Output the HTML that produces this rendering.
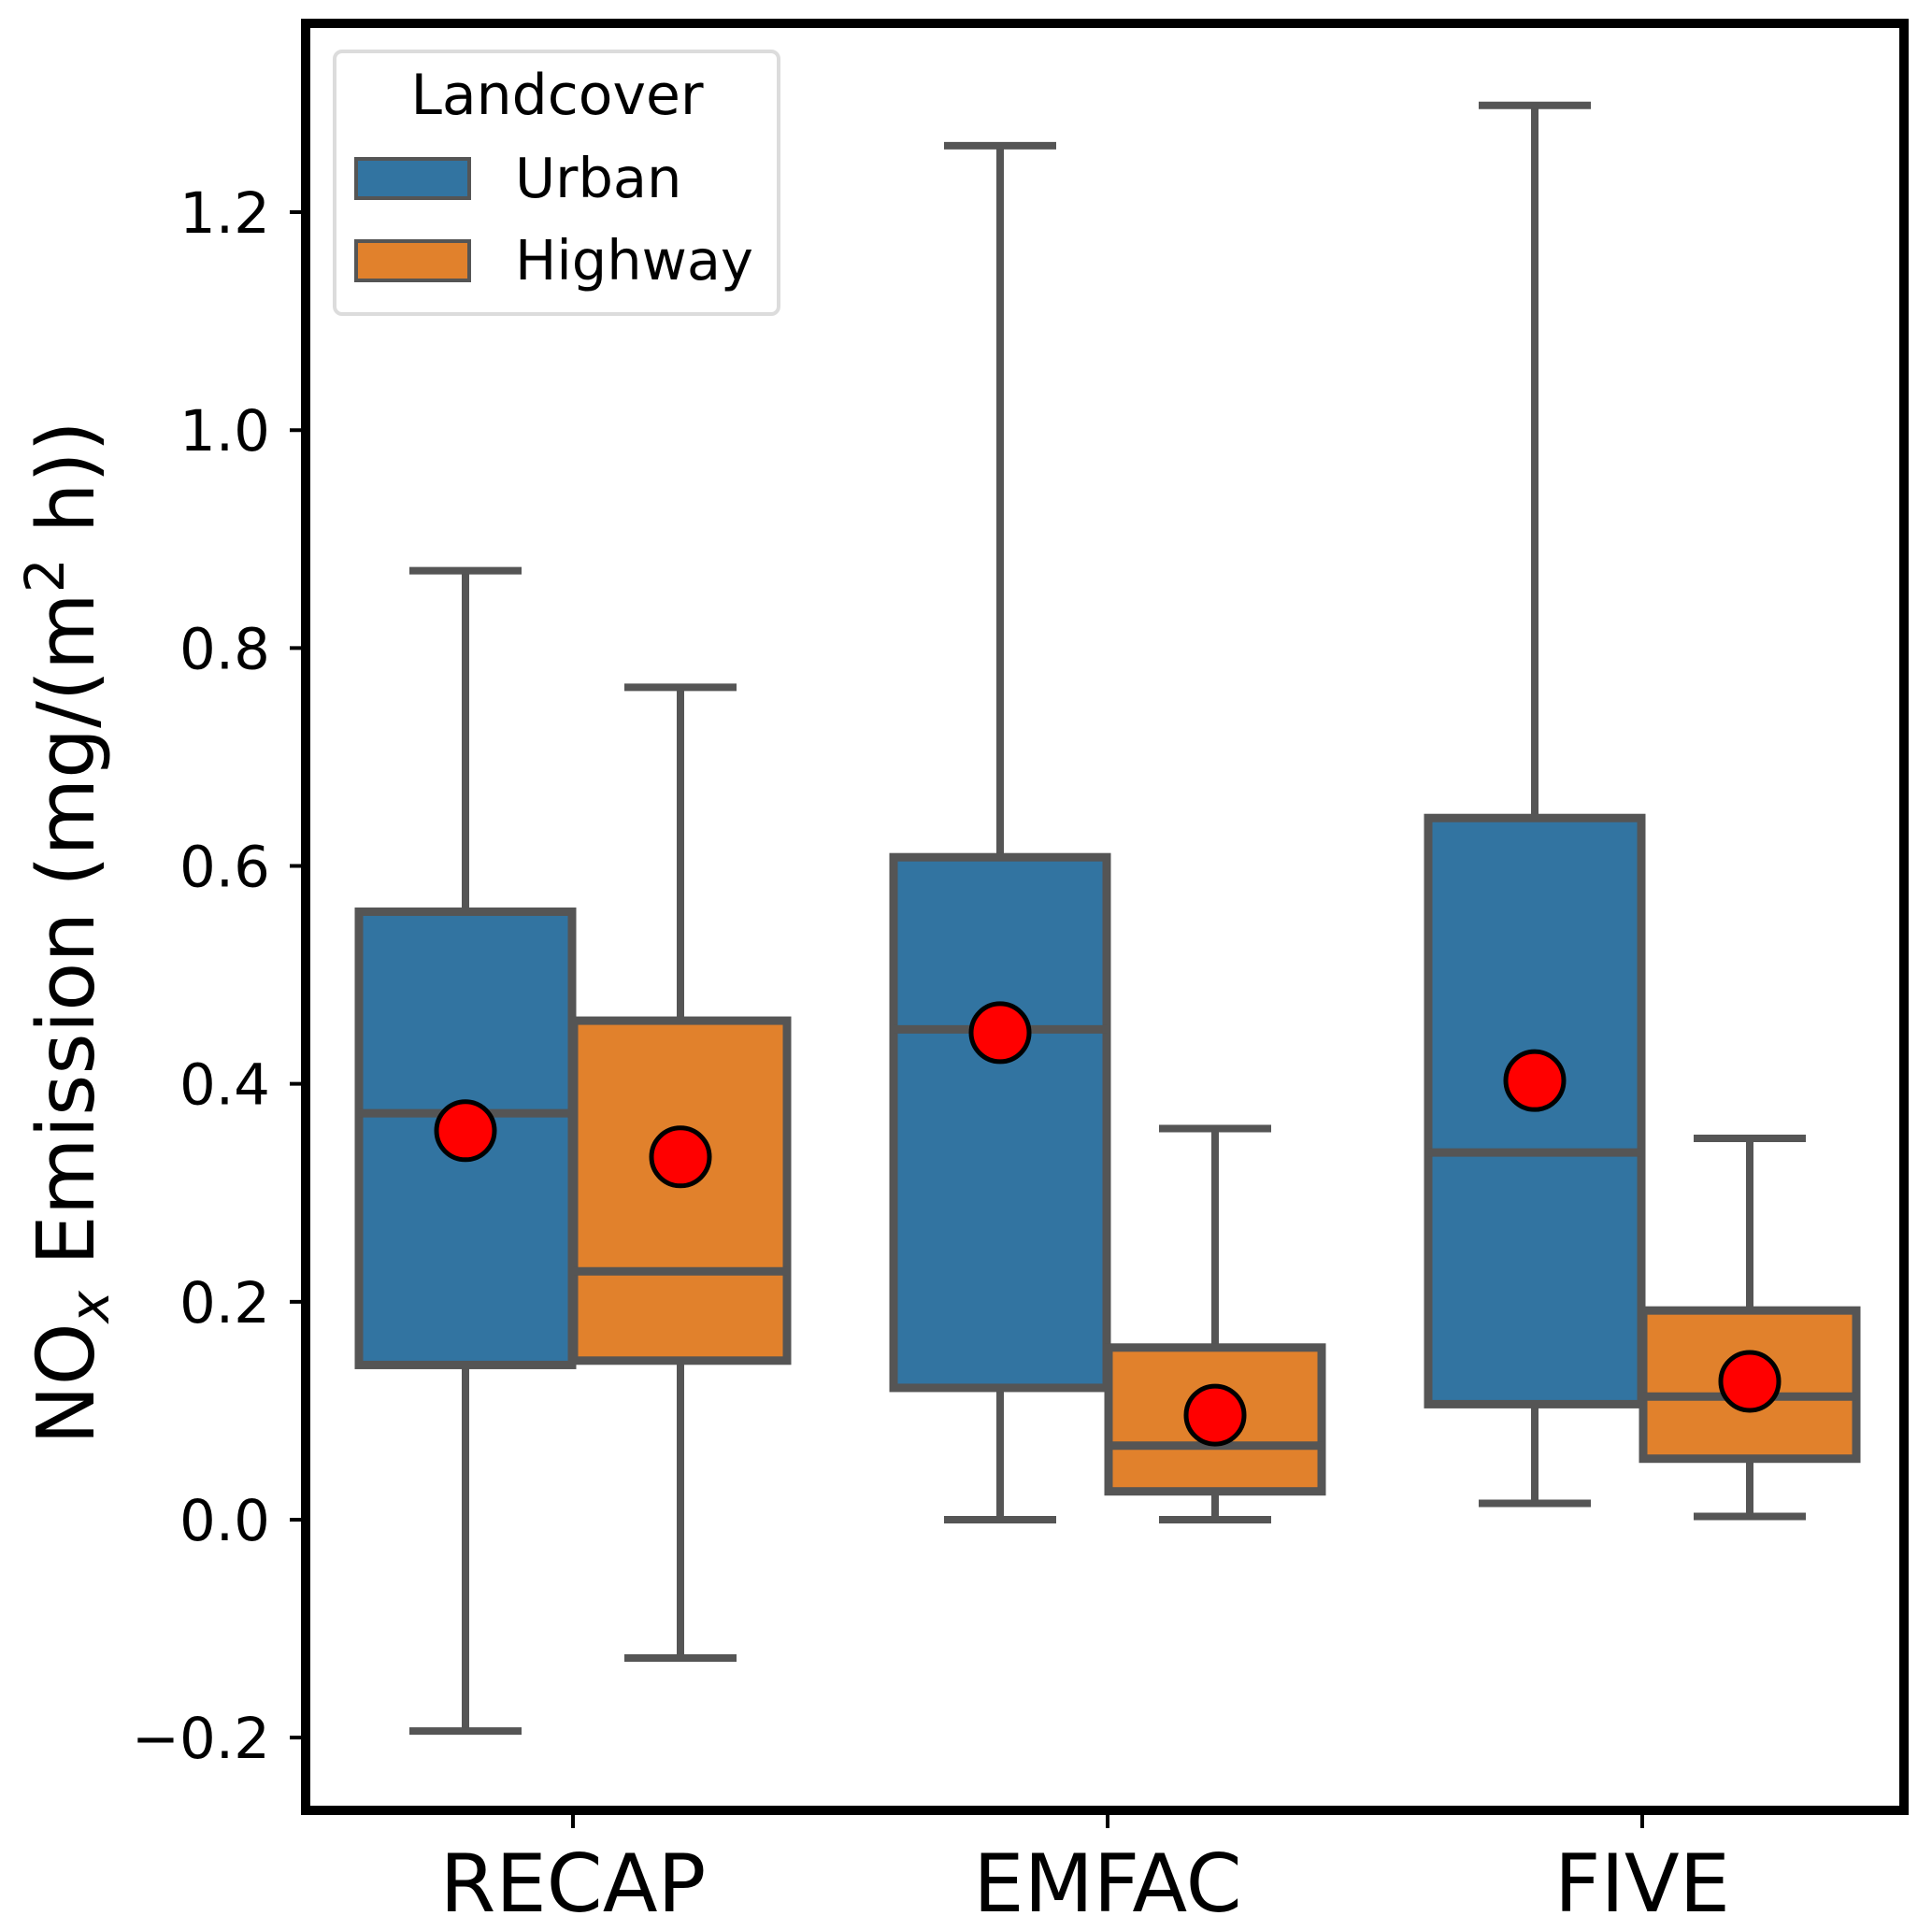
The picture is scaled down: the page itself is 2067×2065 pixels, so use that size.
<!DOCTYPE html>
<html><head><meta charset="utf-8"><style>
html,body{margin:0;padding:0;background:#fff;}
svg{display:block;font-family:"DejaVu Sans","Liberation Sans",sans-serif;}
</style></head><body>
<svg id="chart" width="2067" height="2065" viewBox="0 0 2067 2065" xmlns="http://www.w3.org/2000/svg">
<g id="plot"></g>
<g id="yaxis"></g>
<g id="xaxis"></g>
<rect x="327" y="25" width="1710" height="1912" fill="none" stroke="#000" stroke-width="10"/>
<text transform="translate(100,998) rotate(-90)" text-anchor="middle" font-size="85">NO<tspan font-size="58" dy="16" font-style="italic">x</tspan><tspan dy="-16"> Emission (mg/(m</tspan><tspan font-size="58" dy="-32">2</tspan><tspan dy="32"> h))</tspan></text>
<g>
<rect x="358" y="55" width="475" height="281" rx="8" fill="#fff" stroke="#dcdcdc" stroke-width="4"/>
<text x="596" y="122" text-anchor="middle" font-size="60">Landcover</text>
<g>
<rect x="381" y="170" width="121" height="42" fill="#3274a1" stroke="#555" stroke-width="4"/>
<text x="551" y="211" font-size="59">Urban</text></g>
<g>
<rect x="381" y="258" width="121" height="42" fill="#e1812c" stroke="#555" stroke-width="4"/>
<text x="551" y="299" font-size="59">Highway</text></g>
</g>
</svg>
<script>
const categories = ["RECAP","EMFAC","FIVE"];
const seriesNames = ["Urban","Highway"];
const urbanWhiskLow = [-0.194, 0.0, 0.015];
const urbanQ1 = [0.142, 0.121, 0.106];
const urbanMedian = [0.373, 0.450, 0.337];
const urbanQ3 = [0.558, 0.608, 0.644];
const urbanWhiskHigh = [0.871, 1.261, 1.298];
const urbanMean = [0.357, 0.447, 0.403];
const highwayWhiskLow = [-0.127, 0.0, 0.003];
const highwayQ1 = [0.146, 0.026, 0.056];
const highwayMedian = [0.228, 0.068, 0.113];
const highwayQ3 = [0.458, 0.158, 0.192];
const highwayWhiskHigh = [0.764, 0.359, 0.350];
const highwayMean = [0.333, 0.096, 0.127];
const yTicks = [-0.2, 0.0, 0.2, 0.4, 0.6, 0.8, 1.0, 1.2];
const yTickLabels = ["\u22120.2","0.0","0.2","0.4","0.6","0.8","1.0","1.2"];

const NS = "http://www.w3.org/2000/svg";
function y(v){ return 1626 - v * 1165.8; }
function x(i){ return 613 + i * 572; }
function mk(tag, attrs, parent){ const e=document.createElementNS(NS,tag); for(const k in attrs) e.setAttribute(k, attrs[k]); parent.appendChild(e); return e; }

const plot=document.getElementById('plot'), ya=document.getElementById('yaxis'), xa=document.getElementById('xaxis');
const series=[
 {name:'urban', off:-115, fill:'#3274a1', lo:urbanWhiskLow,q1:urbanQ1,md:urbanMedian,q3:urbanQ3,hi:urbanWhiskHigh,mn:urbanMean},
 {name:'highway', off:115, fill:'#e1812c', lo:highwayWhiskLow,q1:highwayQ1,md:highwayMedian,q3:highwayQ3,hi:highwayWhiskHigh,mn:highwayMean}
];
const bw=228, cap=120, ec='#555';
categories.forEach((c,i)=>{
 series.forEach(s=>{
  const cx=x(i)+s.off;
  const lo=s.lo[i], q1=s.q1[i], md=s.md[i], q3=s.q3[i], hi=s.hi[i], mn=s.mn[i];
  const g=mk('g',{},plot);
  
  
  mk('line',{x1:cx,x2:cx,y1:y(q3),y2:y(hi),stroke:ec,'stroke-width':8},g);
  mk('line',{x1:cx,x2:cx,y1:y(q1),y2:y(lo),stroke:ec,'stroke-width':8},g);
  mk('line',{x1:cx-cap/2,x2:cx+cap/2,y1:y(hi),y2:y(hi),stroke:ec,'stroke-width':8},g);
  mk('line',{x1:cx-cap/2,x2:cx+cap/2,y1:y(lo),y2:y(lo),stroke:ec,'stroke-width':8},g);
  mk('rect',{x:cx-bw/2,y:y(q3),width:bw,height:y(q1)-y(q3),fill:s.fill,stroke:ec,'stroke-width':9},g);
  mk('line',{x1:cx-bw/2,x2:cx+bw/2,y1:y(md),y2:y(md),stroke:ec,'stroke-width':9},g);
  const m=mk('circle',{cx:cx,cy:y(mn),r:31,fill:'#ff0000',stroke:'#000','stroke-width':5},g);
  
  
 });
 const t=mk('line',{x1:x(i),x2:x(i),y1:1937,y2:1956,stroke:'#000','stroke-width':4},xa);
 
 
 const l=mk('text',{x:x(i),y:2045,'text-anchor':'middle','font-size':86},xa);
 
 
 l.textContent=c;
});
yTicks.forEach((v,i)=>{
 const t=mk('line',{x1:310,x2:327,y1:y(v),y2:y(v),stroke:'#000','stroke-width':4},ya);
 
 
 const l=mk('text',{x:289,y:y(v)+22,'text-anchor':'end','font-size':61},ya);
 
 
 l.textContent=yTickLabels[i];
});
</script>
</body></html>
